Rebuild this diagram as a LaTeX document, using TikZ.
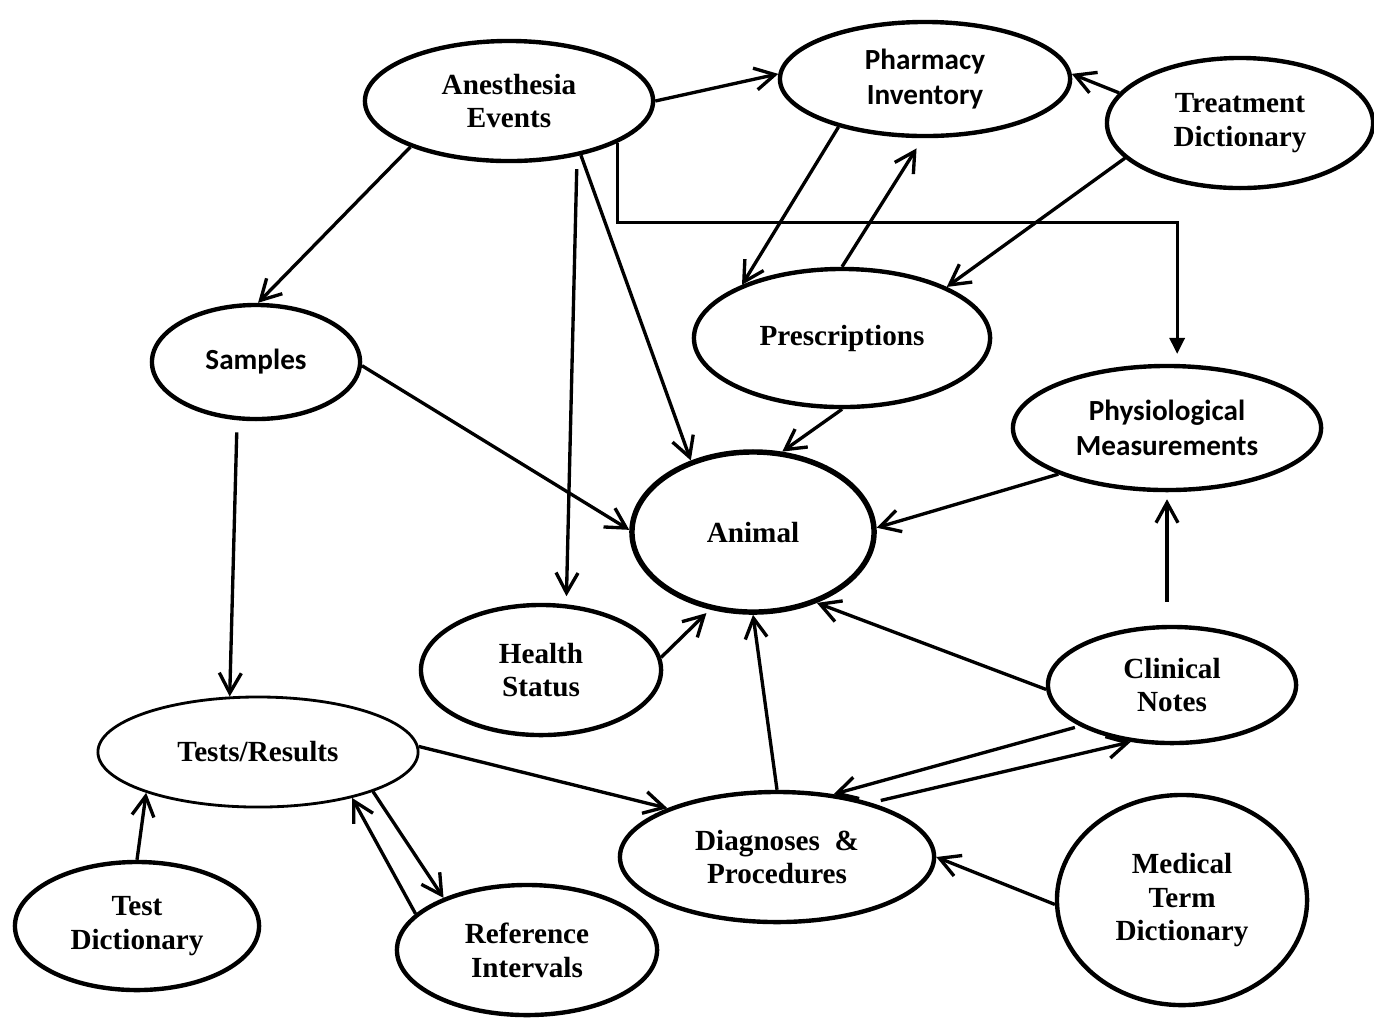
\documentclass[tikz,border=0pt]{standalone}
\usepackage{fontspec}
\setmainfont{Liberation Serif}
\newfontfamily\calfont{Carlito}
\usetikzlibrary{arrows.meta, shapes.geometric}

\begin{document}
\begin{tikzpicture}[
    x=0.01cm, y=-0.01cm,
    >={Straight Barb[length=2mm, width=2.2mm]},
    font=\fontsize{8.3}{9.6}\selectfont\bfseries,
    entity/.style={ellipse, draw, line width=1.25pt, inner sep=0pt, align=center},
    sentity/.style={entity, font=\fontsize{8.3}{10}\selectfont\calfont\bfseries},
    link/.style={->, line width=0.95pt},
    elbow/.style={-{Triangle[length=1.6mm, width=1.5mm]}, line width=0.95pt},
]

\useasboundingbox (0,0) rectangle (1374,1017);

% ── Top row ──
\node[entity, minimum width=2.88cm, minimum height=1.2cm] (anest) at (509,101) {Anesthesia\\Events};
\node[sentity, minimum width=2.9cm, minimum height=1.14cm] (pharm) at (925,79) {Pharmacy\\Inventory};
\node[entity, minimum width=2.66cm, minimum height=1.3cm] (treat) at (1240,123) {Treatment\\Dictionary};

% ── Middle ──
\node[sentity, minimum width=2.08cm, minimum height=1.14cm] (samp) at (256,362) {Samples};
\node[entity, minimum width=2.96cm, minimum height=1.38cm] (presc) at (842,338) {Prescriptions};
\node[sentity, minimum width=3.08cm, minimum height=1.24cm] (physio) at (1167,428) {Physiological\\Measurements};
\node[entity, line width=1.55pt, minimum width=2.42cm, minimum height=1.6cm] (animal) at (753,532) {Animal};
\node[entity, minimum width=2.4cm, minimum height=1.3cm] (health) at (541,670) {Health\\Status};
\node[entity, minimum width=2.48cm, minimum height=1.16cm] (clin) at (1172,685) {Clinical\\Notes};

% ── Bottom ──
\node[entity, line width=0.8pt, minimum width=3.2cm, minimum height=1.1cm] (tests) at (258,752) {Tests/Results};
\node[entity, minimum width=3.14cm, minimum height=1.3cm] (diag) at (777,857) {Diagnoses~~\&\\Procedures};
\node[entity, minimum width=2.44cm, minimum height=1.28cm] (testdict) at (137,926) {Test\\Dictionary};
\node[entity, minimum width=2.6cm, minimum height=1.3cm] (refint) at (527,950) {Reference\\Intervals};
\node[entity, minimum width=2.5cm, minimum height=2.1cm] (medterm) at (1182,900) {Medical\\Term\\Dictionary};

% ── Links ──
\draw[link] (anest.east) -- (pharm.178);
\draw[link] (treat.166) -- (pharm.2);
\draw[link] (anest.205) -- (samp.88);
\draw[link] (anest.-37) -- (animal.131);
\draw[link, shorten <=0.13cm, shorten >=0.08cm] (anest.-39) -- (health.69);
\draw[elbow, shorten >=0.1cm] (anest.-21) -- ++(0,80) -| (physio.81);

\draw[link] (pharm.209) -- (presc.152);
\draw[link, shorten >=0.12cm] (presc.north) -- (pharm.-92);
\draw[link] (treat.197) -- (presc.26);

\draw[link] (samp.-2) -- (animal.179);
\draw[link, shorten <=0.12cm] (samp.252) -- (tests.117);
\draw[link] (presc.south) -- (animal.70);
\draw[link] (physio.203) -- (animal.2);
\draw[link] (clin.182) -- (animal.-48);
\draw[link, shorten >=0.05cm] (health.6) -- (animal.-119);
\draw[link] (diag.north) -- (animal.south);
\draw[link, shorten <=0.23cm, shorten >=0.07cm] (clin.north -| physio.south) -- (physio.south);

\draw[link, shorten <=0.1cm] (diag.30) -- (clin.234);
\draw[link, shorten <=0.05cm] (clin.204) -- (diag.48);
\draw[link] (tests.2) -- (diag.156);
\draw[link] (tests.-19) -- (refint.148);
\draw[link] (refint.162) -- (tests.-26);
\draw[link] (testdict.north) -- (tests.200);
\draw[link] (medterm.182) -- (diag.east);

\end{tikzpicture}
\end{document}
